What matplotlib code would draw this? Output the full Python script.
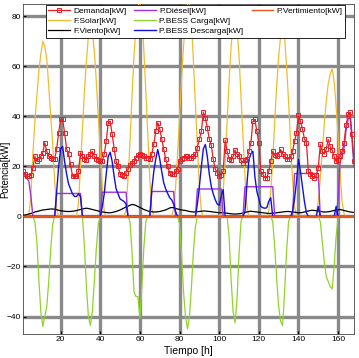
import matplotlib
matplotlib.use("Agg")
import matplotlib.pyplot as plt
import numpy as np

plt.rcParams['font.family'] = ['Liberation Sans', 'DejaVu Sans']

hours = list(range(1, 169))

demanda = (
    [18, 17, 16, 16, 16.5, 19.5, 24, 22, 23, 24, 25.5, 29.5, 26, 24, 23.5, 23, 23, 27, 33.5, 38.8, 38.8, 33.5, 27, 24.8] +
    [20.8, 16.1, 16, 16, 18, 25.5, 24, 23, 22.5, 24, 25, 26, 24, 23, 22.5, 22, 22, 25, 30, 37.5, 38.1, 33, 27, 22] +
    [20, 17, 16.5, 16, 17.5, 19, 20.5, 21.5, 22, 23.5, 24.5, 25, 24.5, 24, 23.5, 23.5, 23, 25, 29, 34, 37.5, 35, 31, 27] +
    [23, 20, 17.5, 16.8, 16.8, 18, 19, 22, 23, 23.5, 24, 24, 23.5, 23.5, 24, 25, 27.5, 31, 34, 41.7, 39.5, 35.5, 31, 28.5] +
    [22.8, 19, 17.5, 16, 16.5, 18, 30.4, 26, 23, 22.5, 24, 26.5, 25, 24, 22.5, 21.5, 22.5, 22.8, 26, 29.5, 38, 38.8, 34, 29.5] +
    [18, 17, 15.5, 15.5, 18, 22, 26, 24.5, 24, 25, 26.8, 25, 24, 23, 23, 24, 26, 30, 33.5, 40.4, 38, 35, 31, 29.5] +
    [18, 17, 16, 15.5, 16.5, 19.5, 28.8, 26, 25, 27, 30.8, 28, 26.5, 24, 22, 22.5, 24, 26, 29.5, 36.5, 40.8, 41.7, 33, 22]
)

solar = (
    [0, 0, 0, 1, 8, 25, 38, 48, 58, 65, 70, 68, 63, 52, 40, 29, 14, 3, 0, 0, 0, 0, 0, 0] +
    [0, 0, 0, 0, 5, 20, 35, 50, 62, 72, 76, 74, 66, 54, 40, 26, 12, 2, 0, 0, 0, 0, 0, 0] +
    [0, 0, 0, 0, 3, 15, 30, 48, 64, 76, 84, 86, 80, 66, 50, 32, 15, 3, 0, 0, 0, 0, 0, 0] +
    [0, 0, 0, 0, 3, 12, 25, 40, 55, 68, 78, 85, 86, 78, 62, 45, 28, 12, 2, 0, 0, 0, 0, 0] +
    [0, 0, 0, 0, 2, 10, 22, 38, 54, 68, 77, 80, 76, 64, 48, 32, 16, 4, 0, 0, 0, 0, 0, 0] +
    [0, 0, 0, 0, 2, 10, 22, 38, 52, 64, 72, 76, 72, 60, 46, 30, 15, 4, 0, 0, 0, 0, 0, 0] +
    [0, 0, 0, 0, 1, 6, 15, 26, 37, 46, 53, 57, 59, 54, 44, 32, 18, 6, 1, 0, 0, 0, 0, 0]
)

viento = (
    [0.5, 0.6, 0.8, 1, 1.2, 1.5, 1.8, 2, 2.2, 2.4, 2.6, 2.7, 2.8, 2.9, 3, 3, 2.9, 2.7, 2.5, 2.3, 2.2, 2.1, 2, 2] +
    [2, 2.1, 2.2, 2.4, 2.6, 2.8, 3, 3.2, 3.3, 3.2, 3, 2.8, 2.6, 2.4, 2.2, 2, 1.8, 1.7, 1.6, 1.5, 1.5, 1.6, 1.8, 2] +
    [2.3, 2.6, 3, 3.4, 3.8, 4.1, 4.5, 4.8, 4.7, 4.4, 4, 3.6, 3.2, 2.8, 2.5, 2.2, 2, 1.9, 1.8, 1.8, 1.9, 2, 2.2, 2.4] +
    [2.6, 3, 3.4, 3.6, 3.5, 3.2, 3, 2.8, 2.6, 2.5, 2.4, 2.2, 2, 1.9, 1.8, 1.8, 1.9, 2, 2.1, 2.2, 2.2, 2.1, 2, 1.9] +
    [1.8, 1.7, 1.6, 1.5, 1.5, 1.5, 1.4, 1.3, 1.2, 1.1, 1, 1, 1, 1.1, 1.2, 1.4, 1.6, 1.8, 2, 2.1, 2, 1.9, 1.8, 1.7] +
    [1.6, 1.5, 1.4, 1.3, 1.2, 1.2, 1.3, 1.4, 1.5, 1.6, 1.7, 1.8, 1.9, 2, 2, 1.9, 1.8, 1.7, 1.6, 1.5, 1.5, 1.6, 1.8, 2] +
    [2.2, 2.4, 2.5, 2.4, 2.3, 2.2, 2, 1.9, 1.8, 1.8, 1.9, 2, 2.2, 2.4, 2.6, 2.7, 2.8, 2.6, 2.4, 2.2, 2, 1.8, 1.7, 1.6]
)

diesel = (
    [17.5, 16.4, 15.2, 14, 8, 0, 0, 0, 0, 0, 0, 0, 0, 0, 0, 0, 0, 9.2, 9.2, 9.2, 9.2, 9.2, 9.2, 9.2] +
    [9.2, 9.2, 9.2, 9.2, 9.2, 9.2, 0, 0, 0, 0, 0, 0, 0, 0, 0, 0, 9.7, 9.7, 9.7, 9.7, 9.7, 9.7, 9.7, 9.7] +
    [9.7, 9.7, 9.7, 9.7, 9.7, 0, 0, 0, 0, 0, 0, 0, 0, 0, 0, 0, 0, 10, 10, 10, 10, 10, 10, 10] +
    [10, 10, 10, 10, 10, 0, 0, 0, 0, 0, 0, 0, 0, 0, 0, 0, 11, 11, 11, 11, 11, 11, 11, 11] +
    [11, 11, 11, 11, 11, 0, 0, 0, 0, 0, 0, 0, 0, 0, 0, 0, 11.9, 11.9, 11.9, 11.9, 11.9, 11.9, 11.9, 11.9] +
    [11.9, 11.9, 11.9, 11.9, 11.9, 11.9, 11.9, 0, 0, 0, 0, 0, 0, 0, 0, 0, 0, 17.2, 17.2, 17.2, 17.2, 17.2, 17.2, 17.2] +
    [17.2, 17.2, 17.2, 17.2, 17.2, 17.2, 0, 0, 0, 0, 0, 0, 0, 0, 0, 7, 22, 24, 27.5, 34.5, 38.8, 39.7, 31, 20]
)

carga = (
    [0, 0, 0, 0, 0, 0, -2, -10, -25, -38, -44, -40, -36, -26, -13, -3, 0, 0, 0, 0, 0, 0, 0, 0] +
    [0, 0, 0, 0, 0, 0, 0, -12, -28, -40, -43.6, -38, -26, -13, -3, 0, 0, 0, 0, 0, 0, 0, 0, 0] +
    [0, 0, 0, 0, 0, 0, -2, -14, -30, -32, -32, -40.5, -28, -12, -2, 0, 0, 0, 0, 0, 0, 0, 0, 0] +
    [0, 0, 0, 0, 0, 0, 0, -3, -15, -30, -40, -44.9, -40, -28, -14, -4, 0, 0, 0, 0, 0, 0, 0, 0] +
    [0, 0, 0, 0, 0, 0, 0, 0, -8, -25, -38, -42.5, -33, -15, -2, 0, 0, 0, 0, 0, 0, 0, 0, 0] +
    [0, 0, 0, 0, 0, 0, -2, -12, -25, -36, -42, -43.6, -30, -14, -2, 0, 0, 0, 0, 0, 0, 0, 0, 0] +
    [0, 0, 0, 0, 0, 0, -2, -10, -18, -24, -26, -28, -29, -20, -8, 0, 0, 0, 0, 0, 0, 0, 0, 0]
)

descarga = (
    [0, 0, 0, 0, 0, 0, 0, 0, 0, 0, 0, 0, 0, 0, 0, 0, 0, 10, 20, 27, 28, 22, 17, 13] +
    [11, 9, 8, 8, 9, 8, 0, 0, 0, 0, 0, 0, 0, 0, 0, 0, 4, 9, 17, 24, 25.7, 22, 16, 11] +
    [9, 7, 6.5, 6, 5, 0, 0, 0, 0, 0, 0, 0, 0, 0, 0, 0, 0, 10.8, 18, 23, 26.8, 23, 18, 13.5] +
    [11, 9.2, 7.5, 6.7, 5, 2, 0, 0, 0, 0, 0, 0, 0, 0, 0, 0, 5, 12, 20, 27, 28.8, 24, 17, 12] +
    [9, 6.7, 5, 4.5, 8, 10.8, 0, 0, 0, 0, 0, 0, 0, 0, 0, 0, 2, 13, 22.8, 25, 26.1, 16, 10, 7] +
    [4, 3.5, 3.3, 3.5, 6, 7.5, 0, 0, 0, 0, 0, 0, 0, 0, 0, 0, 2, 7, 14, 22.8, 18, 12, 6, 1.5] +
    [0, 0, 0, 0, 0, 4, 0, 0, 0, 0, 0, 0, 0, 0, 4, 0, 0, 0, 0, 0, 0, 0, 0, 0]
)

vertimiento = [0] * 168

fig = plt.figure(figsize=(3.59, 3.58), dpi=100)
ax = fig.add_axes([0.064, 0.067, 0.922, 0.922])

l_dem, = ax.plot(hours, demanda, color='#ee1c24', lw=0.9, marker='s', ms=3.2,
                 mfc='none', mec='#ee1c24', mew=0.7, zorder=5, label='Demanda[kW]')
l_sol, = ax.plot(hours, solar, color='#f2bb2c', lw=0.9, zorder=3, label='F.Solar[kW]')
l_vie, = ax.plot(hours, viento, color='black', lw=0.9, zorder=3.2, label='F.Viento[kW]')
l_die, = ax.plot(hours, diesel, color='#a030e0', lw=1.0, zorder=3.3, label='P.Diésel[kW]')
l_car, = ax.plot(hours, carga, color='#8fd42a', lw=0.9, zorder=3.1, label='P.BESS Carga[kW]')
l_des, = ax.plot(hours, descarga, color='#1010e0', lw=1.0, zorder=3.4, label='P.BESS Descarga[kW]')
l_ver, = ax.plot(hours, vertimiento, color='#e8581c', lw=1.0, zorder=3.5, label='P.Vertimiento[kW]')

ax.set_xlim(1, 168)
ax.set_ylim(-47, 85)
ax.set_xticks([20, 40, 60, 80, 100, 120, 140, 160])
ax.set_yticks([-40, -20, 0, 20, 40, 60, 80])
ax.tick_params(labelsize=6, length=2, direction='in', pad=1.5)
ax.grid(True, color='#8a8a8a', lw=2.4, zorder=0)
for t in ax.get_xticks():
    ax.axvline(t, color='black', lw=0.5, zorder=0.5)
for t in ax.get_yticks():
    ax.axhline(t, color='black', lw=0.5, zorder=0.5)
ax.set_axisbelow(True)
for s in ax.spines.values():
    s.set_linewidth(0.6)
    s.set_color('#444444')

ax.set_xlabel('Tiempo [h]', fontsize=7.5, labelpad=2)
ax.set_ylabel('Potencia[kW]', fontsize=7)
ax.yaxis.set_label_coords(-0.038, 0.5)

blank = plt.Line2D([], [], color='none')
handles = [l_dem, l_sol, l_vie, l_die, l_car, l_des, l_ver, blank, blank]
labels = ['Demanda[kW]', 'F.Solar[kW]', 'F.Viento[kW]', 'P.Diésel[kW]', 'P.BESS Carga[kW]',
          'P.BESS Descarga[kW]', 'P.Vertimiento[kW]', '', '']
leg = ax.legend(handles, labels, ncol=3, loc='upper left',
                bbox_to_anchor=(0.069, 0.885, 0.904, 0.112), mode='expand',
                fontsize=6, frameon=True, fancybox=False, framealpha=1,
                edgecolor='black', handlelength=2.6, handletextpad=0.4,
                borderpad=0.3, labelspacing=0.25, columnspacing=1.0, borderaxespad=0)
leg.get_frame().set_linewidth(0.6)
leg.set_zorder(10)

fig.savefig('out.png', dpi=100)
